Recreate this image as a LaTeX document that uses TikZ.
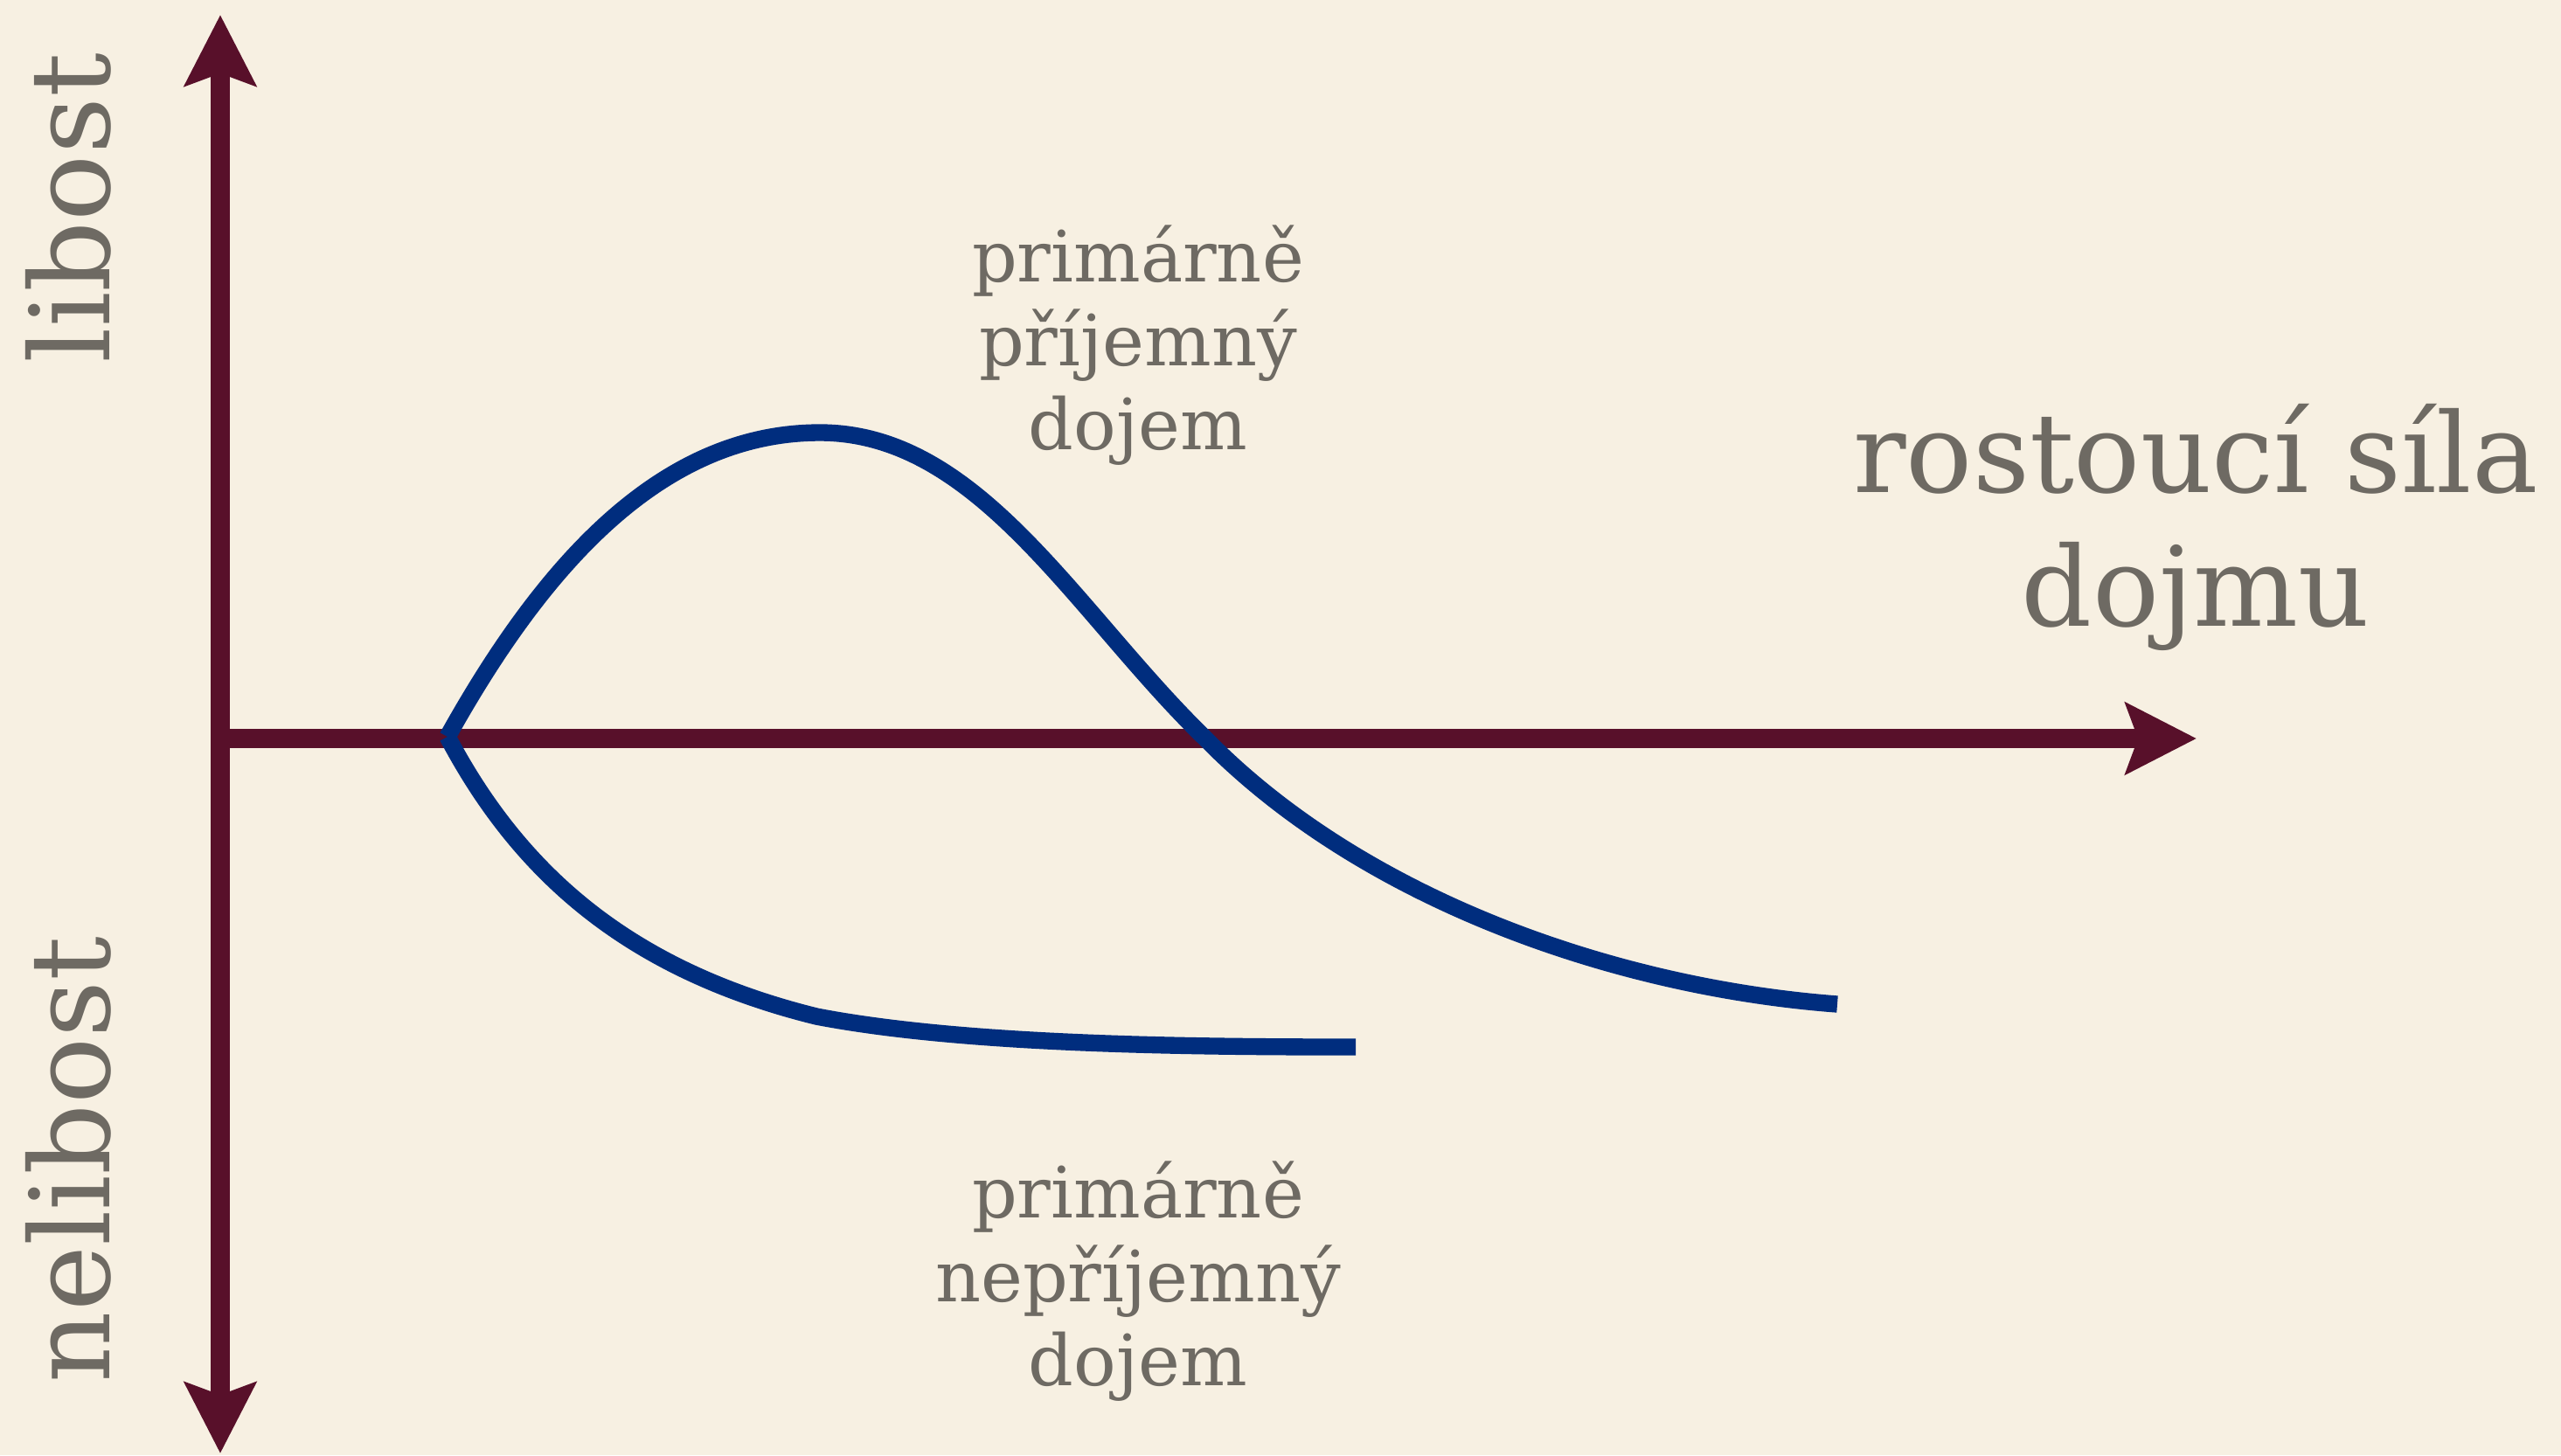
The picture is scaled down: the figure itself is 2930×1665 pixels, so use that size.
\documentclass[tikz,border=0pt]{standalone}
\usepackage{fontspec}
\setmainfont{DejaVu Serif}
\usetikzlibrary{arrows.meta, positioning}
\definecolor{paperbg}{RGB}{247,240,226}
\definecolor{axismaroon}{RGB}{88,16,42}
\definecolor{curvenavy}{RGB}{0,45,126}
\definecolor{labelgray}{RGB}{110,106,99}
\tikzset{axistip/.tip={Stealth[length=23pt, width=23pt, inset=4pt]}}

\begin{document}
\begin{tikzpicture}[x=0.01cm, y=-0.01cm,
    axis/.style={draw=axismaroon, line width=6pt},
    curve/.style={draw=curvenavy, line width=5.5pt},
    biglabel/.style={text=labelgray, font=\fontsize{36}{43.5}\selectfont, inner sep=0pt, align=center},
    smalllabel/.style={text=labelgray, font=\fontsize{23}{27.3}\selectfont, inner sep=0pt, align=center}]
    % Paper
    \fill[paperbg] (0,0) rectangle (2930,1665);
    \useasboundingbox (0,0) rectangle (2930,1665);

    % Axes
    \coordinate (origin) at (252,845);
    \coordinate (ytop) at (252,17);
    \coordinate (ybot) at (252,1663);
    \coordinate (xend) at (2513,845);
    \draw[axis, axistip-axistip] (ybot) -- (ytop);
    \draw[axis, -axistip] (origin) -- (xend);

    % Curves
    \coordinate (split) at (512,843);
    \coordinate (peak) at (938,495);
    \coordinate (cross) at (1379,845);
    \coordinate (upend) at (2102,1149);
    \coordinate (lowmid) at (934,1163);
    \coordinate (lowend) at (1551,1198);
    \draw[curve] (split) .. controls (625,640) and (760,495) .. (peak)
        .. controls (1120,495) and (1230,700) .. (cross)
        .. controls (1560,1030) and (1850,1130) .. (upend);
    \draw[curve] (split) .. controls (595,1000) and (720,1110) .. (lowmid)
        .. controls (1100,1195) and (1350,1198) .. (lowend);

    % Labels
    \node[biglabel, anchor=base] (xlabel) at (2512,716) {rostoucí síla\\dojmu};
    \node[smalllabel, anchor=base] (pleasant) at (1302,514) {primárně\\příjemný\\dojem};
    \node[smalllabel, anchor=base] (unpleasant) at (1302,1585) {primárně\\nepříjemný\\dojem};
    \node[biglabel, rotate=90, anchor=base] (liking) at (125,238) {libost};
    \node[biglabel, rotate=90, anchor=base] (disliking) at (125,1327) {nelibost};
\end{tikzpicture}
\end{document}
